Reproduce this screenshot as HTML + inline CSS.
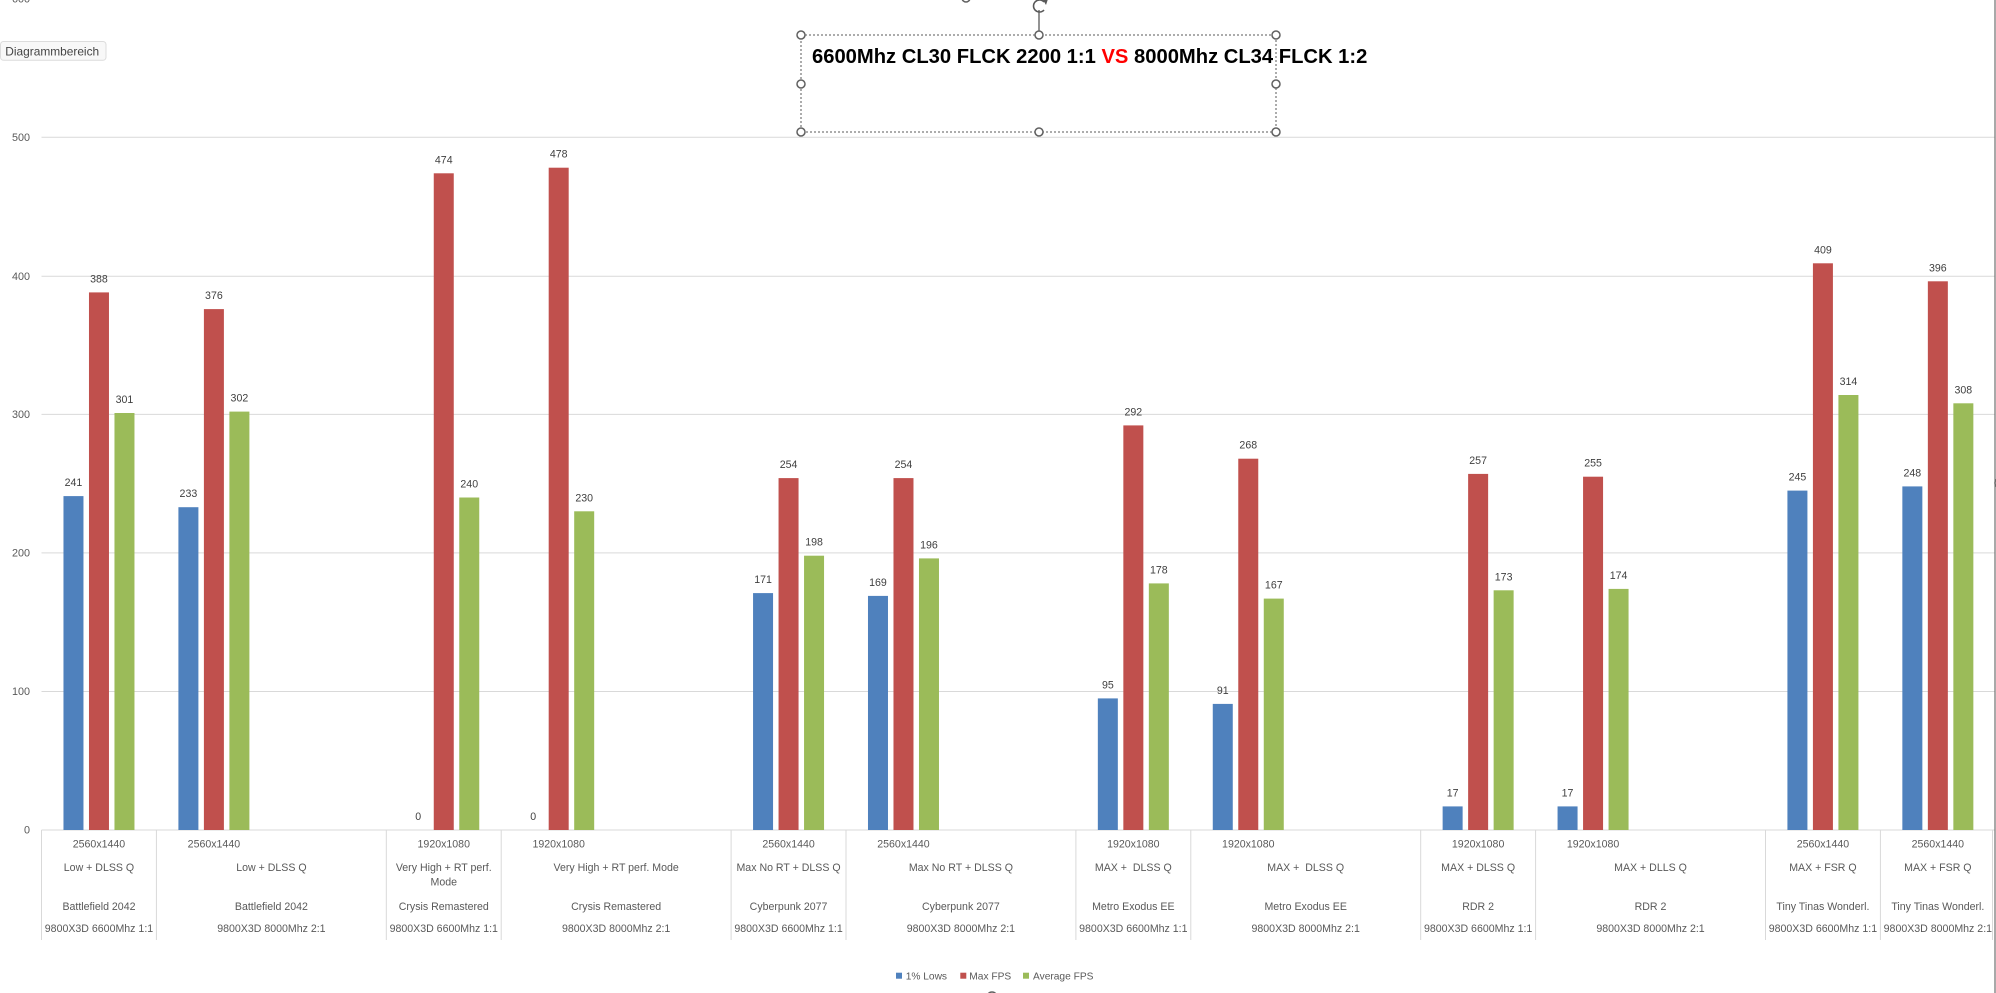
<!DOCTYPE html>
<html>
<head>
<meta charset="utf-8">
<style>
  html,body{margin:0;padding:0;background:#fff;}
  body{width:1996px;height:993px;overflow:hidden;}
  svg{display:block;}
  text{font-family:"Liberation Sans",Arial,sans-serif;}
  .ax{font-size:10.8px;fill:#595959;}
  .dl{font-size:10.6px;fill:#404040;text-anchor:middle;}
  .cat{font-size:10.6px;fill:#595959;text-anchor:middle;}
  .lg{font-size:10.2px;fill:#595959;}
</style>
</head>
<body>
<svg width="1996" height="993" viewBox="0 0 1996 993" xmlns="http://www.w3.org/2000/svg">
  <rect x="0" y="0" width="1996" height="993" fill="#ffffff"/>

  <!-- gridlines -->
  <g stroke="#d9d9d9" stroke-width="1">
    <line x1="41.5" y1="137.3" x2="1995" y2="137.3"/>
    <line x1="41.5" y1="276.2" x2="1995" y2="276.2"/>
    <line x1="41.5" y1="414.4" x2="1995" y2="414.4"/>
    <line x1="41.5" y1="552.9" x2="1995" y2="552.9"/>
    <line x1="41.5" y1="691.5" x2="1995" y2="691.5"/>
    <line x1="41.5" y1="830" x2="1995" y2="830"/>
  </g>

  <!-- y axis labels -->
  <g class="ax" text-anchor="end">
    <text x="30" y="2.5">600</text>
    <text x="30" y="141">500</text>
    <text x="30" y="280">400</text>
    <text x="30" y="418">300</text>
    <text x="30" y="556.5">200</text>
    <text x="30" y="695">100</text>
    <text x="30" y="833.5">0</text>
  </g>

  <!-- Diagrammbereich tooltip -->
  <rect x="0.5" y="41.5" width="105.5" height="18.8" rx="3" ry="3" fill="#f8f8f8" stroke="#dcdcdc" stroke-width="1"/>
  <text x="5.3" y="55.3" style="font-size:11.9px;fill:#444444;">Diagrammbereich</text>

  <!-- bars and data labels -->
  <!-- slot 0 -->
  <g transform="translate(98.97,0)">
    <rect x="-35.5" y="496.1" width="20" height="333.9" fill="#4f81bd"/>
    <rect x="-10" y="292.4" width="20" height="537.6" fill="#c0504d"/>
    <rect x="15.5" y="413.0" width="20" height="417.0" fill="#9bbb59"/>
    <text class="dl" x="-25.5" y="486.1">241</text>
    <text class="dl" x="0" y="282.4">388</text>
    <text class="dl" x="25.5" y="403.0">301</text>
  </g>
  <!-- slot 1 -->
  <g transform="translate(213.9,0)">
    <rect x="-35.5" y="507.2" width="20" height="322.8" fill="#4f81bd"/>
    <rect x="-10" y="309.1" width="20" height="520.9" fill="#c0504d"/>
    <rect x="15.5" y="411.6" width="20" height="418.4" fill="#9bbb59"/>
    <text class="dl" x="-25.5" y="497.2">233</text>
    <text class="dl" x="0" y="299.1">376</text>
    <text class="dl" x="25.5" y="401.6">302</text>
  </g>
  <!-- slot 3 -->
  <g transform="translate(443.76,0)">
    <rect x="-10" y="173.3" width="20" height="656.7" fill="#c0504d"/>
    <rect x="15.5" y="497.5" width="20" height="332.5" fill="#9bbb59"/>
    <text class="dl" x="-25.5" y="820">0</text>
    <text class="dl" x="0" y="163.3">474</text>
    <text class="dl" x="25.5" y="487.5">240</text>
  </g>
  <!-- slot 4 -->
  <g transform="translate(558.69,0)">
    <rect x="-10" y="167.7" width="20" height="662.3" fill="#c0504d"/>
    <rect x="15.5" y="511.3" width="20" height="318.7" fill="#9bbb59"/>
    <text class="dl" x="-25.5" y="820">0</text>
    <text class="dl" x="0" y="157.7">478</text>
    <text class="dl" x="25.5" y="501.3">230</text>
  </g>
  <!-- slot 6 -->
  <g transform="translate(788.55,0)">
    <rect x="-35.5" y="593.1" width="20" height="236.9" fill="#4f81bd"/>
    <rect x="-10" y="478.1" width="20" height="351.9" fill="#c0504d"/>
    <rect x="15.5" y="555.7" width="20" height="274.3" fill="#9bbb59"/>
    <text class="dl" x="-25.5" y="583.1">171</text>
    <text class="dl" x="0" y="468.1">254</text>
    <text class="dl" x="25.5" y="545.7">198</text>
  </g>
  <!-- slot 7 -->
  <g transform="translate(903.48,0)">
    <rect x="-35.5" y="595.9" width="20" height="234.1" fill="#4f81bd"/>
    <rect x="-10" y="478.1" width="20" height="351.9" fill="#c0504d"/>
    <rect x="15.5" y="558.4" width="20" height="271.6" fill="#9bbb59"/>
    <text class="dl" x="-25.5" y="585.9">169</text>
    <text class="dl" x="0" y="468.1">254</text>
    <text class="dl" x="25.5" y="548.4">196</text>
  </g>
  <!-- slot 9 -->
  <g transform="translate(1133.34,0)">
    <rect x="-35.5" y="698.4" width="20" height="131.6" fill="#4f81bd"/>
    <rect x="-10" y="425.4" width="20" height="404.6" fill="#c0504d"/>
    <rect x="15.5" y="583.4" width="20" height="246.6" fill="#9bbb59"/>
    <text class="dl" x="-25.5" y="688.4">95</text>
    <text class="dl" x="0" y="415.4">292</text>
    <text class="dl" x="25.5" y="573.4">178</text>
  </g>
  <!-- slot 10 -->
  <g transform="translate(1248.27,0)">
    <rect x="-35.5" y="703.9" width="20" height="126.1" fill="#4f81bd"/>
    <rect x="-10" y="458.7" width="20" height="371.3" fill="#c0504d"/>
    <rect x="15.5" y="598.6" width="20" height="231.4" fill="#9bbb59"/>
    <text class="dl" x="-25.5" y="693.9">91</text>
    <text class="dl" x="0" y="448.7">268</text>
    <text class="dl" x="25.5" y="588.6">167</text>
  </g>
  <!-- slot 12 -->
  <g transform="translate(1478.13,0)">
    <rect x="-35.5" y="806.4" width="20" height="23.6" fill="#4f81bd"/>
    <rect x="-10" y="473.9" width="20" height="356.1" fill="#c0504d"/>
    <rect x="15.5" y="590.3" width="20" height="239.7" fill="#9bbb59"/>
    <text class="dl" x="-25.5" y="796.4">17</text>
    <text class="dl" x="0" y="463.9">257</text>
    <text class="dl" x="25.5" y="580.3">173</text>
  </g>
  <!-- slot 13 -->
  <g transform="translate(1593.06,0)">
    <rect x="-35.5" y="806.4" width="20" height="23.6" fill="#4f81bd"/>
    <rect x="-10" y="476.7" width="20" height="353.3" fill="#c0504d"/>
    <rect x="15.5" y="588.9" width="20" height="241.1" fill="#9bbb59"/>
    <text class="dl" x="-25.5" y="796.4">17</text>
    <text class="dl" x="0" y="466.7">255</text>
    <text class="dl" x="25.5" y="578.9">174</text>
  </g>
  <!-- slot 15 -->
  <g transform="translate(1822.92,0)">
    <rect x="-35.5" y="490.6" width="20" height="339.4" fill="#4f81bd"/>
    <rect x="-10" y="263.3" width="20" height="566.7" fill="#c0504d"/>
    <rect x="15.5" y="395.0" width="20" height="435.0" fill="#9bbb59"/>
    <text class="dl" x="-25.5" y="480.6">245</text>
    <text class="dl" x="0" y="253.3">409</text>
    <text class="dl" x="25.5" y="385.0">314</text>
  </g>
  <!-- slot 16 -->
  <g transform="translate(1937.85,0)">
    <rect x="-35.5" y="486.4" width="20" height="343.6" fill="#4f81bd"/>
    <rect x="-10" y="281.3" width="20" height="548.7" fill="#c0504d"/>
    <rect x="15.5" y="403.3" width="20" height="426.7" fill="#9bbb59"/>
    <text class="dl" x="-25.5" y="476.4">248</text>
    <text class="dl" x="0" y="271.3">396</text>
    <text class="dl" x="25.5" y="393.3">308</text>
  </g>

  <!-- category axis dividers -->
  <g stroke="#d9d9d9" stroke-width="1">
    <line x1="41.5" y1="830" x2="41.5" y2="940"/>
    <line x1="156.4" y1="830" x2="156.4" y2="940"/>
    <line x1="386.3" y1="830" x2="386.3" y2="940"/>
    <line x1="501.2" y1="830" x2="501.2" y2="940"/>
    <line x1="731.1" y1="830" x2="731.1" y2="940"/>
    <line x1="846" y1="830" x2="846" y2="940"/>
    <line x1="1075.9" y1="830" x2="1075.9" y2="940"/>
    <line x1="1190.8" y1="830" x2="1190.8" y2="940"/>
    <line x1="1420.7" y1="830" x2="1420.7" y2="940"/>
    <line x1="1535.6" y1="830" x2="1535.6" y2="940"/>
    <line x1="1765.5" y1="830" x2="1765.5" y2="940"/>
    <line x1="1880.4" y1="830" x2="1880.4" y2="940"/>
    <line x1="1992.5" y1="830" x2="1992.5" y2="940"/>
  </g>

  <!-- category labels -->
  <g class="cat">
    <!-- Battlefield 6600 -->
    <text x="98.97" y="847.5">2560x1440</text>
    <text x="98.97" y="871">Low + DLSS Q</text>
    <text x="98.97" y="910">Battlefield 2042</text>
    <text x="98.97" y="932">9800X3D 6600Mhz 1:1</text>
    <!-- Battlefield 8000 -->
    <text x="213.9" y="847.5">2560x1440</text>
    <text x="271.4" y="871">Low + DLSS Q</text>
    <text x="271.4" y="910">Battlefield 2042</text>
    <text x="271.4" y="932">9800X3D 8000Mhz 2:1</text>
    <!-- Crysis 6600 -->
    <text x="443.76" y="847.5">1920x1080</text>
    <text x="443.76" y="871">Very High + RT perf.</text>
    <text x="443.76" y="885.5">Mode</text>
    <text x="443.76" y="910">Crysis Remastered</text>
    <text x="443.76" y="932">9800X3D 6600Mhz 1:1</text>
    <!-- Crysis 8000 -->
    <text x="558.69" y="847.5">1920x1080</text>
    <text x="616.15" y="871">Very High + RT perf. Mode</text>
    <text x="616.15" y="910">Crysis Remastered</text>
    <text x="616.15" y="932">9800X3D 8000Mhz 2:1</text>
    <!-- Cyberpunk 6600 -->
    <text x="788.55" y="847.5">2560x1440</text>
    <text x="788.55" y="871">Max No RT + DLSS Q</text>
    <text x="788.55" y="910">Cyberpunk 2077</text>
    <text x="788.55" y="932">9800X3D 6600Mhz 1:1</text>
    <!-- Cyberpunk 8000 -->
    <text x="903.48" y="847.5">2560x1440</text>
    <text x="960.9" y="871">Max No RT + DLSS Q</text>
    <text x="960.9" y="910">Cyberpunk 2077</text>
    <text x="960.9" y="932">9800X3D 8000Mhz 2:1</text>
    <!-- Metro 6600 -->
    <text x="1133.34" y="847.5">1920x1080</text>
    <text x="1133.34" y="871" xml:space="preserve">MAX +  DLSS Q</text>
    <text x="1133.34" y="910">Metro Exodus EE</text>
    <text x="1133.34" y="932">9800X3D 6600Mhz 1:1</text>
    <!-- Metro 8000 -->
    <text x="1248.27" y="847.5">1920x1080</text>
    <text x="1305.7" y="871" xml:space="preserve">MAX +  DLSS Q</text>
    <text x="1305.7" y="910">Metro Exodus EE</text>
    <text x="1305.7" y="932">9800X3D 8000Mhz 2:1</text>
    <!-- RDR2 6600 -->
    <text x="1478.13" y="847.5">1920x1080</text>
    <text x="1478.13" y="871">MAX + DLSS Q</text>
    <text x="1478.13" y="910">RDR 2</text>
    <text x="1478.13" y="932">9800X3D 6600Mhz 1:1</text>
    <!-- RDR2 8000 -->
    <text x="1593.06" y="847.5">1920x1080</text>
    <text x="1650.5" y="871">MAX + DLLS Q</text>
    <text x="1650.5" y="910">RDR 2</text>
    <text x="1650.5" y="932">9800X3D 8000Mhz 2:1</text>
    <!-- Tiny Tinas 6600 -->
    <text x="1822.92" y="847.5">2560x1440</text>
    <text x="1822.92" y="871">MAX + FSR Q</text>
    <text x="1822.92" y="910">Tiny Tinas Wonderl.</text>
    <text x="1822.92" y="932">9800X3D 6600Mhz 1:1</text>
    <!-- Tiny Tinas 8000 -->
    <text x="1937.85" y="847.5">2560x1440</text>
    <text x="1937.85" y="871">MAX + FSR Q</text>
    <text x="1937.85" y="910">Tiny Tinas Wonderl.</text>
    <text x="1937.85" y="932">9800X3D 8000Mhz 2:1</text>
  </g>

  <!-- legend -->
  <rect x="896" y="972.7" width="6" height="6" fill="#4f81bd"/>
  <text class="lg" x="905.7" y="979.5">1% Lows</text>
  <rect x="960.3" y="972.7" width="6" height="6" fill="#c0504d"/>
  <text class="lg" x="969.3" y="979.5">Max FPS</text>
  <rect x="1023" y="972.7" width="6" height="6" fill="#9bbb59"/>
  <text class="lg" x="1033" y="979.5">Average FPS</text>

  <!-- title selection box -->
  <rect x="801" y="35" width="475" height="97" fill="none" stroke="#595959" stroke-width="1" stroke-dasharray="2,2"/>
  <text x="812" y="63" style="font-size:20.2px;font-weight:bold;fill:#000000;">6600Mhz CL30 FLCK 2200 1:1 <tspan fill="#ff0000">VS</tspan> 8000Mhz CL34 FLCK 1:2</text>

  <!-- rotation handle -->
  <line x1="1039" y1="31" x2="1039" y2="10" stroke="#595959" stroke-width="1.3"/>
  <path d="M1044,2 A6,6 0 1 0 1044,10" fill="none" stroke="#595959" stroke-width="1.6"/>
  <path d="M1043,0 L1048,-1 L1046,5 Z" fill="#595959"/>

  <g fill="#ffffff" stroke="#606060" stroke-width="1.5">
    <circle cx="801" cy="35" r="4"/>
    <circle cx="1039" cy="35" r="4"/>
    <circle cx="1276" cy="35" r="4"/>
    <circle cx="801" cy="84" r="4"/>
    <circle cx="1276" cy="84" r="4"/>
    <circle cx="801" cy="132" r="4"/>
    <circle cx="1039" cy="132" r="4"/>
    <circle cx="1276" cy="132" r="4"/>
    <!-- partial chart handles -->
    <circle cx="966" cy="-2" r="4"/>
    <circle cx="992" cy="997" r="5"/>
    <circle cx="2000" cy="483" r="5"/>
  </g>

  <!-- chart area right border -->
  <line x1="1995" y1="0" x2="1995" y2="993" stroke="#707070" stroke-width="1.2"/>
</svg>
</body>
</html>
